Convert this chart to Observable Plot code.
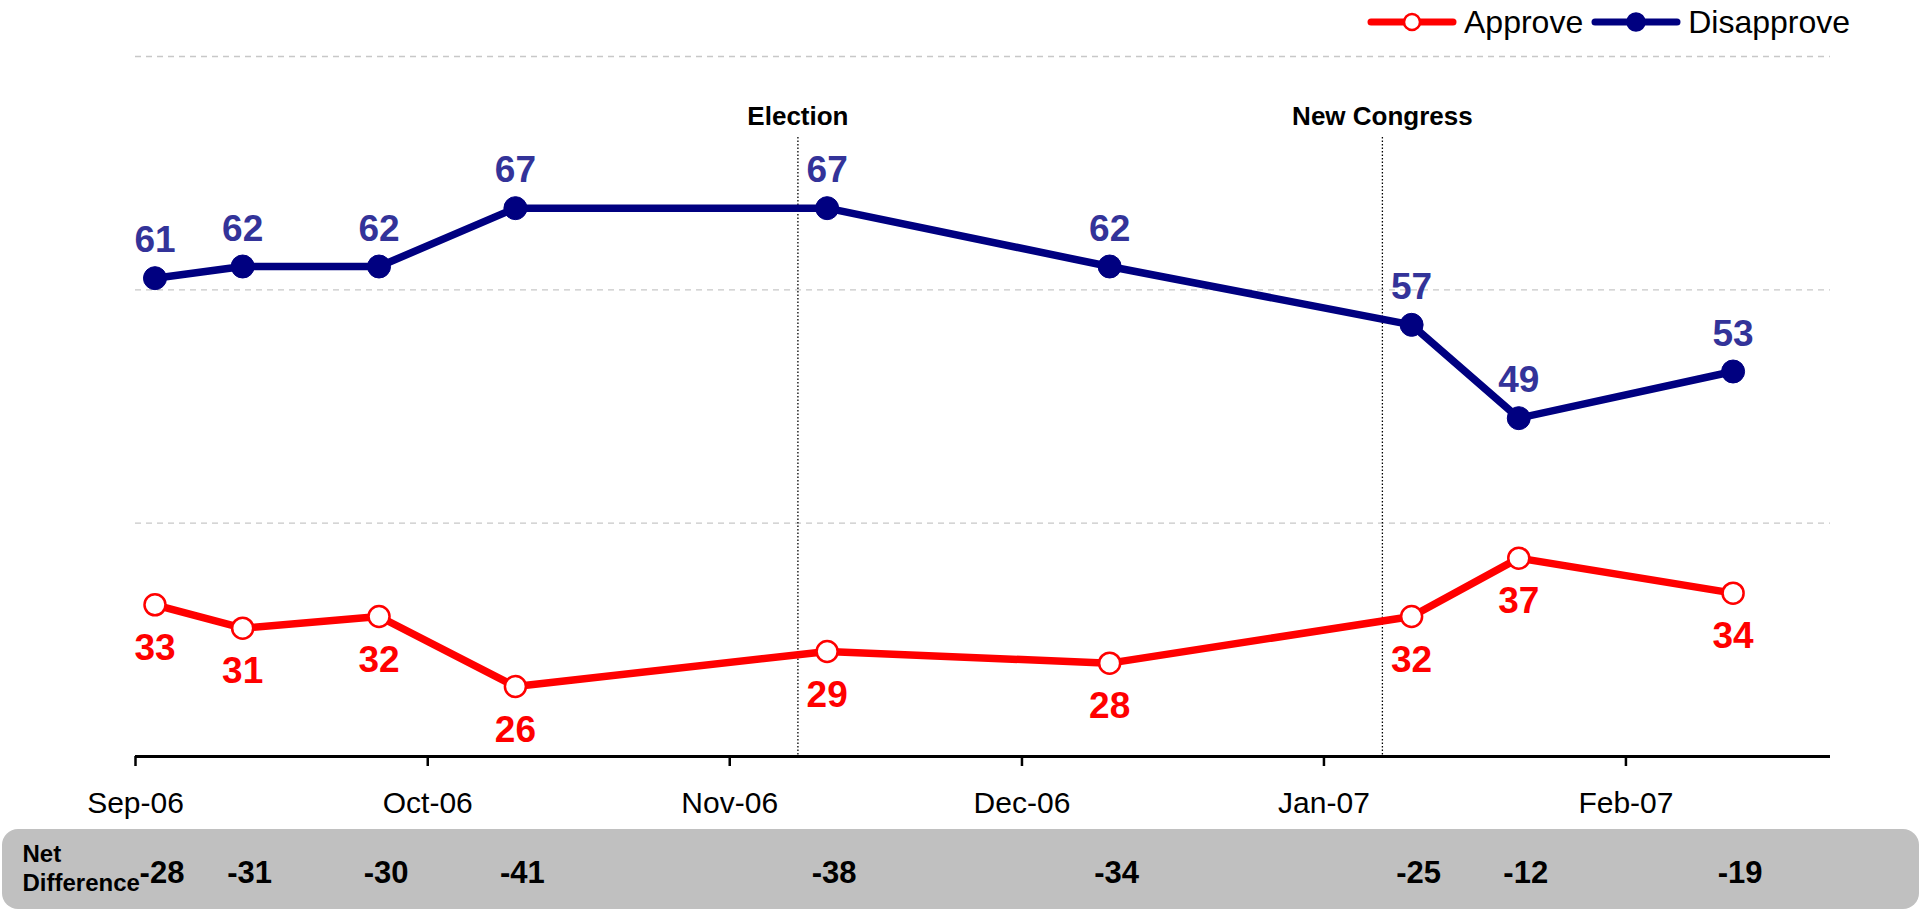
<!DOCTYPE html>
<html>
<head>
<meta charset="utf-8">
<script src="https://cdn.jsdelivr.net/npm/d3@7"></script>
<script src="https://cdn.jsdelivr.net/npm/@observablehq/plot@0.6"></script>
<style>
  html, body { margin: 0; padding: 0; background: #fff; }
  body { width: 1923px; height: 912px; position: relative; overflow: hidden; font-family: "Liberation Sans", Arial, sans-serif; }
  #chart { position: absolute; left: 0; top: 0; }
  #legend { position: absolute; left: 1367px; top: 0; height: 44px; display: flex; align-items: center; font-size: 32px; color: #000; }
  #legend .item { display: flex; align-items: center; margin-right: 8px; }
  #legend svg { margin-right: 7px; }
</style>
</head>
<body>
<div id="chart"></div>
<div id="legend"></div>
<script>
// ---- data ----
const pollDates   = ["2006-09-03","2006-09-12","2006-09-26","2006-10-10","2006-11-11","2006-12-10","2007-01-10","2007-01-21","2007-02-12"];
const approve     = [33, 31, 32, 26, 29, 28, 32, 37, 34];
const disapprove  = [61, 62, 62, 67, 67, 62, 57, 49, 53];
const netDiff     = [-28, -31, -30, -41, -38, -34, -25, -12, -19];
const eventNames  = ["Election", "New Congress"];
const eventDates  = ["2006-11-08", "2007-01-07"];
const tickDates   = ["2006-09-01","2006-10-01","2006-11-01","2006-12-01","2007-01-01","2007-02-01"];
const tickLabels  = ["Sep-06","Oct-06","Nov-06","Dec-06","Jan-07","Feb-07"];
const gridValues  = [40, 60, 80];
const xDomain     = ["2006-09-01", "2007-02-22"];
const yDomain     = [20, 80];
const seriesNames = ["Approve", "Disapprove"];

const parse = d => new Date(d + "T00:00:00Z");
const rows = pollDates.map((d, i) => ({date: parse(d), approve: approve[i], disapprove: disapprove[i], net: netDiff[i]}));
const events = eventNames.map((n, i) => ({name: n, date: parse(eventDates[i])}));
const ticks = tickDates.map(parse);
const tickLabelOf = new Map(ticks.map((t, i) => [+t, tickLabels[i]]));

const RED = "#ff0000", NAVY = "#000080", NAVY_TXT = "#333399";
const FONT = "Liberation Sans, Arial, sans-serif";

// grey rounded band behind the net difference row
const netBand = (index, scales, values, dims) => {
  const g = d3.create("svg:g");
  g.append("rect")
    .attr("x", 2).attr("y", dims.height - dims.marginBottom + 73)
    .attr("width", dims.width - 6).attr("height", 80)
    .attr("rx", 16).attr("ry", 16)
    .attr("fill", "#c0c0c0");
  return g.node();
};

const plot = Plot.plot({
  width: 1923,
  height: 912,
  marginTop: 56,
  marginBottom: 156,
  marginLeft: 135,
  marginRight: 93,
  style: {fontFamily: FONT, background: "#fff", overflow: "visible"},
  x: {type: "utc", domain: xDomain.map(parse), axis: null},
  y: {domain: yDomain, axis: null},
  marks: [
    netBand,
    Plot.ruleY(gridValues, {stroke: "#c8c8c8", strokeWidth: 1.3, strokeDasharray: "6,5"}),
    Plot.ruleX(events, {x: "date", stroke: "#000", strokeWidth: 1.3, strokeDasharray: "1.5,2", insetTop: 81}),
    Plot.text(events, {x: "date", text: "name", frameAnchor: "top", lineAnchor: "bottom", dy: 68,
      fontSize: 26, fontWeight: "bold", fill: "#000"}),
    Plot.ruleY([yDomain[0]], {stroke: "#000", strokeWidth: 3}),
    Plot.axisX(ticks, {anchor: "bottom", tickSize: 10, tickPadding: 25, strokeWidth: 2.5, stroke: "#000",
      tickFormat: d => tickLabelOf.get(+d), fontSize: 30, fill: "#000", label: null}),
    Plot.line(rows, {x: "date", y: "disapprove", stroke: NAVY, strokeWidth: 7.5}),
    Plot.dot(rows, {x: "date", y: "disapprove", r: 11.5, fill: NAVY, stroke: NAVY, strokeWidth: 1}),
    Plot.line(rows, {x: "date", y: "approve", stroke: RED, strokeWidth: 7.5}),
    Plot.dot(rows, {x: "date", y: "approve", r: 10.5, fill: "#fff", stroke: RED, strokeWidth: 2.5}),
    Plot.text(rows, {x: "date", y: "disapprove", text: d => String(d.disapprove), lineAnchor: "bottom", dy: -26,
      fontSize: 37, fontWeight: "bold", fill: NAVY_TXT}),
    Plot.text(rows, {x: "date", y: "approve", text: d => String(d.approve), lineAnchor: "bottom", dy: 55,
      fontSize: 37, fontWeight: "bold", fill: RED}),
    Plot.text(rows, {x: "date", text: d => String(d.net), frameAnchor: "bottom", lineAnchor: "bottom", dy: 126, dx: 7,
      fontSize: 31, fontWeight: "bold", fill: "#000"}),
    Plot.text(["Net\nDifference"], {frameAnchor: "bottom-left", textAnchor: "start", lineAnchor: "bottom",
      dx: -113, dy: 134, lineHeight: 1.2, fontSize: 24, fontWeight: "bold", fill: "#000"})
  ]
});
document.getElementById("chart").appendChild(plot);

// legend
const legend = d3.select("#legend");
const legendSpec = [
  {name: seriesNames[0], color: RED, fill: "#fff", r: 8},
  {name: seriesNames[1], color: NAVY, fill: NAVY, r: 8.5}
];
legendSpec.forEach(s => {
  const item = legend.append("div").attr("class", "item");
  const svg = item.append("svg").attr("width", 90).attr("height", 26);
  svg.append("line").attr("x1", 4).attr("x2", 86).attr("y1", 13).attr("y2", 13)
    .attr("stroke", s.color).attr("stroke-width", 7).attr("stroke-linecap", "round");
  svg.append("circle").attr("cx", 45).attr("cy", 13).attr("r", s.r)
    .attr("fill", s.fill).attr("stroke", s.color).attr("stroke-width", 2.5);
  item.append("span").text(s.name);
});
</script>
</body>
</html>
